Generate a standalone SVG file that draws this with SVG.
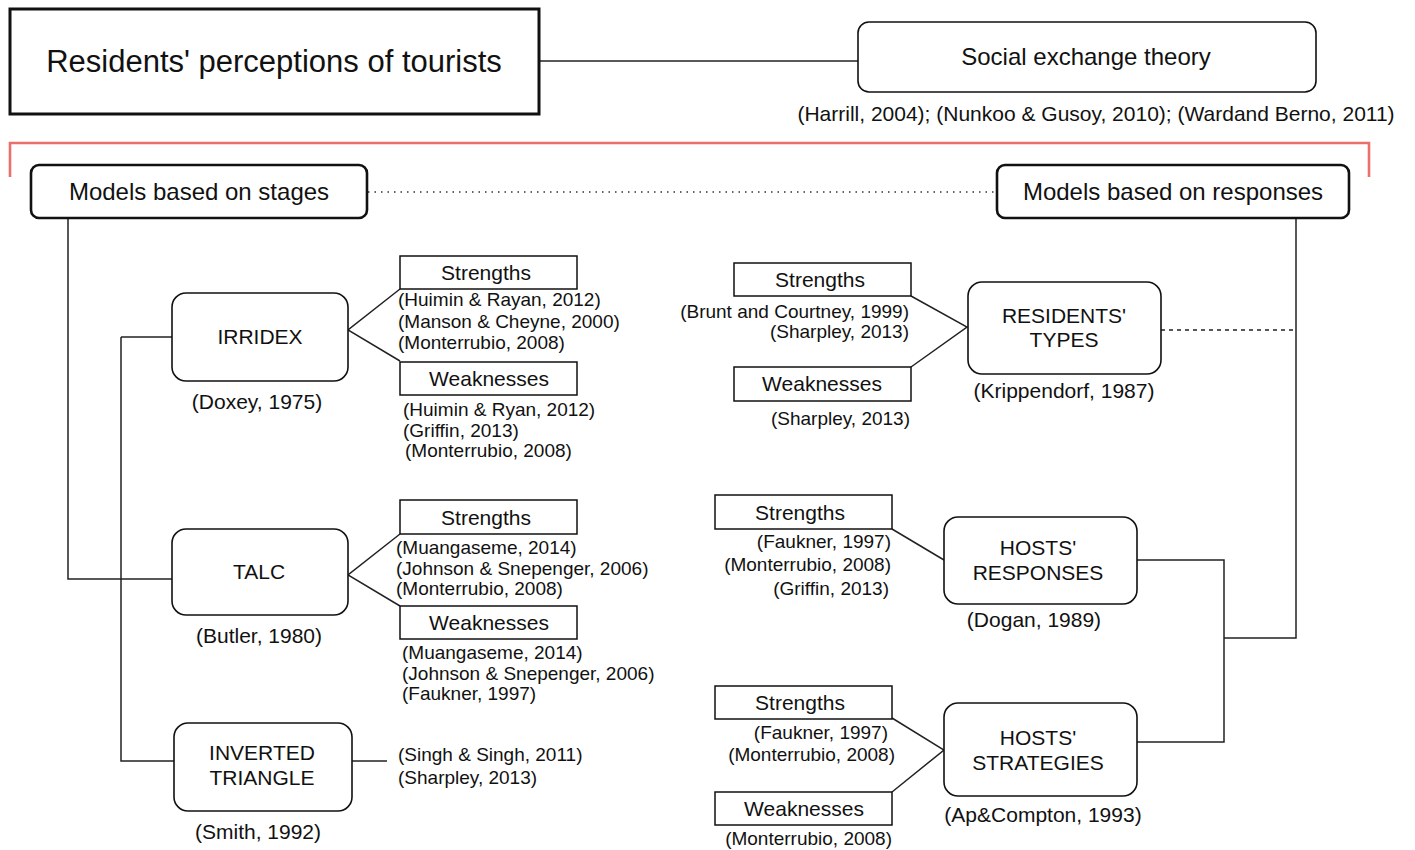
<svg xmlns="http://www.w3.org/2000/svg" width="1415" height="850" viewBox="0 0 1415 850">
<style>
  text { font-family: "Liberation Sans", Arial, Helvetica, sans-serif; fill: #111; }
  .title { font-size: 31px; text-anchor: middle; }
  .big { font-size: 24px; text-anchor: middle; }
  .lab { font-size: 21px; text-anchor: middle; }
  .cit { font-size: 21px; text-anchor: middle; }
  .sm { font-size: 19px; }
  .r { text-anchor: end; }
  .node { fill: #fff; stroke: #111; stroke-width: 1.6; }
  .thick { fill: #fff; stroke: #111; stroke-width: 2.6; }
  .sq { fill: #fff; stroke: #111; stroke-width: 1.5; }
  .ln { fill: none; stroke: #222; stroke-width: 1.5; }
</style>
<rect width="1415" height="850" fill="#fff"/>

<g id="connectors">
  <line class="ln" x1="539" y1="61" x2="858" y2="61"/>
  <path d="M10,177 V143 H1369 V177" fill="none" stroke="#ea706c" stroke-width="2.6"/>
  <line x1="368" y1="192" x2="995" y2="192" stroke="#333" stroke-width="1.5" stroke-dasharray="1.5 5"/>
  <path class="ln" d="M68,218 V579 H172"/>
  <path class="ln" d="M121,337 H172"/>
  <path class="ln" d="M121,337 V761 H174"/>
  <path class="ln" d="M352,761 H387"/>
  <path class="ln" d="M400,289 L348,330 L400,361"/>
  <path class="ln" d="M400,534 L348,575 L400,606"/>
  <path class="ln" d="M911,296 L967,327 L911,367"/>
  <line x1="1161" y1="330" x2="1296" y2="330" stroke="#222" stroke-width="1.5" stroke-dasharray="4 4"/>
  <path class="ln" d="M1296,218 V638 H1224"/>
  <path class="ln" d="M1137,560 H1224 V742 H1137"/>
  <path class="ln" d="M892,529 L944,560"/>
  <path class="ln" d="M892,718 L944,750 L892,792"/>
</g>

<g id="title">
  <rect x="10" y="9" width="529" height="105" fill="#fff" stroke="#111" stroke-width="3"/>
  <text class="title" x="274" y="72">Residents' perceptions of tourists</text>
</g>

<g id="social-exchange">
  <rect class="node" x="858" y="22" width="458" height="70" rx="11"/>
  <text class="big" x="1086" y="65">Social exchange theory</text>
  <text class="cit" x="1096" y="121">(Harrill, 2004); (Nunkoo &amp; Gusoy, 2010); (Wardand Berno, 2011)</text>
</g>

<g id="models-stages">
  <rect class="thick" x="31" y="165" width="336" height="53" rx="8"/>
  <text class="big" x="199" y="200">Models based on stages</text>
</g>

<g id="models-responses">
  <rect class="thick" x="997" y="165" width="352" height="53" rx="8"/>
  <text class="big" x="1173" y="200">Models based on responses</text>
</g>

<g id="irridex">
  <rect class="node" x="172" y="293" width="176" height="88" rx="14"/>
  <text class="lab" x="260" y="344">IRRIDEX</text>
  <text class="cit" x="257" y="409">(Doxey, 1975)</text>
</g>
<g id="irridex-strengths">
  <rect class="sq" x="400" y="256" width="177" height="33"/>
  <text class="lab" x="486" y="280">Strengths</text>
  <text class="sm" x="398" y="306">(Huimin &amp; Rayan, 2012)</text>
  <text class="sm" x="398" y="328">(Manson &amp; Cheyne, 2000)</text>
  <text class="sm" x="398" y="349">(Monterrubio, 2008)</text>
</g>
<g id="irridex-weaknesses">
  <rect class="sq" x="400" y="362" width="177" height="33"/>
  <text class="lab" x="489" y="386">Weaknesses</text>
  <text class="sm" x="403" y="416">(Huimin &amp; Ryan, 2012)</text>
  <text class="sm" x="403" y="437">(Griffin, 2013)</text>
  <text class="sm" x="405" y="457">(Monterrubio, 2008)</text>
</g>

<g id="talc">
  <rect class="node" x="172" y="529" width="176" height="86" rx="14"/>
  <text class="lab" x="259" y="579">TALC</text>
  <text class="cit" x="259" y="643">(Butler, 1980)</text>
</g>
<g id="talc-strengths">
  <rect class="sq" x="400" y="500" width="177" height="34"/>
  <text class="lab" x="486" y="525">Strengths</text>
  <text class="sm" x="396" y="554">(Muangaseme, 2014)</text>
  <text class="sm" x="396" y="575">(Johnson &amp; Snepenger, 2006)</text>
  <text class="sm" x="396" y="595">(Monterrubio, 2008)</text>
</g>
<g id="talc-weaknesses">
  <rect class="sq" x="400" y="606" width="177" height="33"/>
  <text class="lab" x="489" y="630">Weaknesses</text>
  <text class="sm" x="402" y="659">(Muangaseme, 2014)</text>
  <text class="sm" x="402" y="680">(Johnson &amp; Snepenger, 2006)</text>
  <text class="sm" x="402" y="700">(Faukner, 1997)</text>
</g>

<g id="inverted-triangle">
  <rect class="node" x="174" y="723" width="178" height="88" rx="14"/>
  <text class="lab" x="262" y="760">INVERTED</text>
  <text class="lab" x="262" y="785">TRIANGLE</text>
  <text class="cit" x="258" y="839">(Smith, 1992)</text>
  <text class="sm" x="398" y="761">(Singh &amp; Singh, 2011)</text>
  <text class="sm" x="398" y="784">(Sharpley, 2013)</text>
</g>

<g id="residents-types">
  <rect class="node" x="968" y="282" width="193" height="92" rx="14"/>
  <text class="lab" x="1064" y="323">RESIDENTS'</text>
  <text class="lab" x="1064" y="347">TYPES</text>
  <text class="cit" x="1064" y="398">(Krippendorf, 1987)</text>
</g>
<g id="types-strengths">
  <rect class="sq" x="734" y="263" width="177" height="33"/>
  <text class="lab" x="820" y="287">Strengths</text>
  <text class="sm r" x="909" y="318">(Brunt and Courtney, 1999)</text>
  <text class="sm r" x="909" y="338">(Sharpley, 2013)</text>
</g>
<g id="types-weaknesses">
  <rect class="sq" x="734" y="367" width="177" height="34"/>
  <text class="lab" x="822" y="391">Weaknesses</text>
  <text class="sm r" x="910" y="425">(Sharpley, 2013)</text>
</g>

<g id="hosts-responses">
  <rect class="node" x="944" y="517" width="193" height="87" rx="14"/>
  <text class="lab" x="1038" y="555">HOSTS'</text>
  <text class="lab" x="1038" y="580">RESPONSES</text>
  <text class="cit" x="1034" y="627">(Dogan, 1989)</text>
</g>
<g id="responses-strengths">
  <rect class="sq" x="715" y="495" width="177" height="34"/>
  <text class="lab" x="800" y="520">Strengths</text>
  <text class="sm r" x="891" y="548">(Faukner, 1997)</text>
  <text class="sm r" x="891" y="571">(Monterrubio, 2008)</text>
  <text class="sm r" x="889" y="595">(Griffin, 2013)</text>
</g>

<g id="hosts-strategies">
  <rect class="node" x="944" y="703" width="193" height="93" rx="14"/>
  <text class="lab" x="1038" y="745">HOSTS'</text>
  <text class="lab" x="1038" y="770">STRATEGIES</text>
  <text class="cit" x="1043" y="822">(Ap&amp;Compton, 1993)</text>
</g>
<g id="strategies-strengths">
  <rect class="sq" x="715" y="686" width="177" height="33"/>
  <text class="lab" x="800" y="710">Strengths</text>
  <text class="sm r" x="888" y="739">(Faukner, 1997)</text>
  <text class="sm r" x="895" y="761">(Monterrubio, 2008)</text>
</g>
<g id="strategies-weaknesses">
  <rect class="sq" x="715" y="792" width="177" height="33"/>
  <text class="lab" x="804" y="816">Weaknesses</text>
  <text class="sm r" x="892" y="845">(Monterrubio, 2008)</text>
</g>
</svg>
